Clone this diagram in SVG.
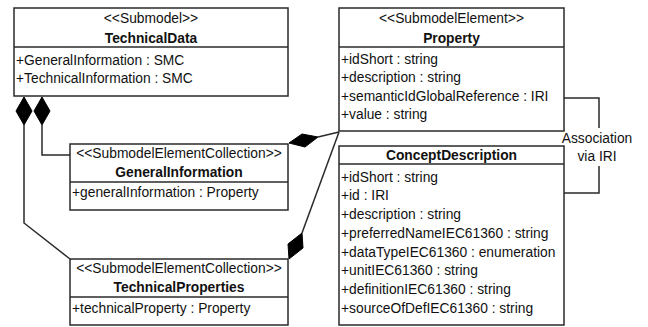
<svg xmlns="http://www.w3.org/2000/svg" width="648" height="327" viewBox="0 0 648 327">
<style>
.box{fill:#fff;stroke:#2a2a2a;stroke-width:1.5}
.sep{stroke:#2a2a2a;stroke-width:1.5}
.ln{fill:none;stroke:#2a2a2a;stroke-width:1.5}
.dm{fill:#000;stroke:#000;stroke-width:1}
text{font-family:"Liberation Sans",Arial,sans-serif;font-size:13.8px;fill:#111}
.c{text-anchor:middle}
.b{font-weight:bold}
</style>
<rect width="648" height="327" fill="#fff"/>
<g id="connectors">
<path class="ln" d="M24,125 V223 L70,259"/>
<path class="ln" d="M42,125 V155 H70"/>
<path class="ln" d="M318,137 L339,132"/>
<path class="ln" d="M302,233 L339,132"/>
<path class="ln" d="M564,98 H599 V128"/>
<path class="ln" d="M599,166 V193 H564"/>
<polygon class="dm" points="24,97 32,111 24,125 16,111"/>
<polygon class="dm" points="42,97 50,111 42,125 34,111"/>
<polygon class="dm" points="289,143 302,134 318,137 305,147"/>
<polygon class="dm" points="289,259 288,244 302,233 303,248"/>
<text class="c" x="597" y="143">Association</text>
<text class="c" x="597" y="161">via IRI</text>
</g>
<g id="TechnicalData">
<rect class="box" x="14" y="8" width="274" height="88"/>
<line class="sep" x1="14" y1="47" x2="288" y2="47"/>
<text class="c" x="151" y="23">&lt;&lt;Submodel&gt;&gt;</text>
<text class="c b" x="151" y="43">TechnicalData</text>
<text x="16" y="65">+GeneralInformation : SMC</text>
<text x="16" y="83">+TechnicalInformation : SMC</text>
</g>
<g id="GeneralInformation">
<rect class="box" x="70" y="144" width="218" height="66"/>
<line class="sep" x1="70" y1="182" x2="288" y2="182"/>
<text class="c" x="179" y="158">&lt;&lt;SubmodelElementCollection&gt;&gt;</text>
<text class="c b" x="179" y="177">GeneralInformation</text>
<text x="72" y="197">+generalInformation : Property</text>
</g>
<g id="TechnicalProperties">
<rect class="box" x="70" y="259" width="218" height="66"/>
<line class="sep" x1="70" y1="297" x2="288" y2="297"/>
<text class="c" x="179" y="273">&lt;&lt;SubmodelElementCollection&gt;&gt;</text>
<text class="c b" x="179" y="292">TechnicalProperties</text>
<text x="72" y="313">+technicalProperty : Property</text>
</g>
<g id="Property">
<rect class="box" x="339" y="8" width="225" height="123"/>
<line class="sep" x1="339" y1="47" x2="564" y2="47"/>
<text class="c" x="451.5" y="23">&lt;&lt;SubmodelElement&gt;&gt;</text>
<text class="c b" x="451.5" y="43">Property</text>
<text x="341" y="64">+idShort : string</text>
<text x="341" y="82">+description : string</text>
<text x="341" y="101">+semanticIdGlobalReference : IRI</text>
<text x="341" y="119">+value : string</text>
</g>
<g id="ConceptDescription">
<rect class="box" x="339" y="146" width="225" height="179"/>
<line class="sep" x1="339" y1="164" x2="564" y2="164"/>
<text class="c b" x="451.5" y="160">ConceptDescription</text>
<text x="341" y="182">+idShort : string</text>
<text x="341" y="200">+id : IRI</text>
<text x="341" y="219">+description : string</text>
<text x="341" y="238">+preferredNameIEC61360 : string</text>
<text x="341" y="257">+dataTypeIEC61360 : enumeration</text>
<text x="341" y="275">+unitIEC61360 : string</text>
<text x="341" y="294">+definitionIEC61360 : string</text>
<text x="341" y="313">+sourceOfDefIEC61360 : string</text>
</g>
</svg>
